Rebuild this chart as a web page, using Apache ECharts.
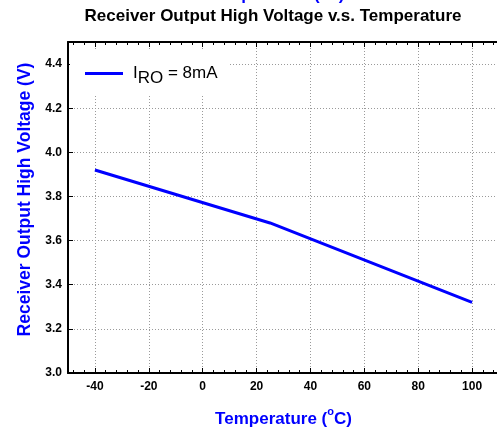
<!DOCTYPE html>
<html>
<head>
<meta charset="utf-8">
<script src="https://cdn.jsdelivr.net/npm/echarts@6/dist/echarts.min.js"></script>
<style>
html,body{margin:0;padding:0;background:#fff;}
#chart{width:497px;height:432px;}
</style>
</head>
<body>
<div id="chart"></div>
<script>
// ---- data ----
const temps = [-40, 25, 100];
const voh = [3.92, 3.68, 3.32];
const xMajor = [-40, -20, 0, 20, 40, 60, 80, 100];
const xMinor = [-48, -44, -36, -32, -28, -24, -16, -12, -8, -4, 4, 8, 12, 16, 24, 28, 32, 36, 44, 48, 52, 56, 64, 68, 72, 76, 84, 88, 92, 96, 104, 108];
const yTicks = [3.0, 3.2, 3.4, 3.6, 3.8, 4.0, 4.2, 4.4];
const seriesName = 'IRO = 8mA';
const titleText = 'Receiver Output High Voltage v.s. Temperature';

const FONT = 'Liberation Sans, Arial, Helvetica, sans-serif';
const BLUE = '#0000ff';
const grid = {left: 68, top: 42, right: -2, bottom: 59, outerBoundsMode: 'none', containLabel: false};
const dotted = {color: '#9a9a9a', width: 1, type: [1, 2]};

function xAx(extra) {
  return Object.assign({
    type: 'value', min: -50, max: 110, gridIndex: 0,
    axisLine: {show: false, onZero: false},
    axisTick: {show: false},
    axisLabel: {show: false},
    splitLine: {show: false}
  }, extra);
}

const chart = echarts.init(document.getElementById('chart'), null, {renderer: 'canvas'});
chart.setOption({
  animation: false,
  backgroundColor: '#fff',
  title: {
    text: titleText, left: 273, top: 8, padding: 0, textAlign: 'center',
    textStyle: {fontFamily: FONT, fontSize: 17, fontWeight: 'bold', color: '#000'}
  },
  graphic: [{
    type: 'text', x: 0, y: 0,
    style: {text: 'Temperature (°C)', x: 276, y: 4, textAlign: 'center', textVerticalAlign: 'bottom',
      fill: BLUE, font: 'bold 17px ' + FONT}
  }],
  legend: {
    left: 70, top: 49, padding: [11, 12, 9, 15], backgroundColor: '#fff',
    itemWidth: 38, itemHeight: 3, selectedMode: false,
    data: [{name: seriesName, icon: 'rect'}],
    formatter: function () { return '{i|I}{r|RO}{a| = 8mA}'; },
    textStyle: {
      fontFamily: FONT, fontSize: 17, color: '#000',
      rich: {
        i: {fontFamily: FONT, fontSize: 17, color: '#000', padding: [0, 0, 0, 5], lineHeight: 18},
        r: {fontFamily: FONT, fontSize: 17, color: '#000', padding: [10, 0, 0, 0], lineHeight: 18},
        a: {fontFamily: FONT, fontSize: 17, color: '#000', lineHeight: 18}
      }
    }
  },
  grid: grid,
  xAxis: [
    xAx({
      position: 'bottom',
      axisLine: {show: true, onZero: false, lineStyle: {color: '#000', width: 2}},
      axisTick: {show: true, inside: true, length: 5, customValues: xMajor, lineStyle: {color: '#000', width: 1}},
      axisLabel: {show: true, customValues: xMajor, margin: 8, color: '#000', fontFamily: FONT, fontSize: 12, fontWeight: 'bold'},
      splitLine: {show: true, lineStyle: dotted},
      name: 'Temperature ({s|o}C)', nameLocation: 'middle', nameGap: 33,
      nameTextStyle: {
        color: BLUE, fontFamily: FONT, fontSize: 17, fontWeight: 'bold', lineHeight: 26, verticalAlign: 'top',
        rich: {s: {color: BLUE, fontFamily: FONT, fontSize: 11, fontWeight: 'bold', lineHeight: 11, verticalAlign: 'top'}}
      }
    }),
    xAx({
      position: 'bottom',
      axisTick: {show: true, inside: true, length: 3, customValues: xMinor, lineStyle: {color: '#000', width: 1}}
    }),
    xAx({
      position: 'top',
      axisLine: {show: true, onZero: false, lineStyle: {color: '#000', width: 2}},
      axisTick: {show: true, inside: true, length: 5, customValues: xMajor, lineStyle: {color: '#000', width: 1}}
    }),
    xAx({
      position: 'top',
      axisTick: {show: true, inside: true, length: 3, customValues: xMinor, lineStyle: {color: '#000', width: 1}}
    })
  ],
  yAxis: {
    type: 'value', min: 3.0, max: 4.5, interval: 0.2, position: 'left',
    axisLine: {show: true, onZero: false, lineStyle: {color: '#000', width: 2}},
    axisTick: {show: true, inside: true, length: 5, customValues: yTicks, lineStyle: {color: '#000', width: 1}},
    axisLabel: {show: true, customValues: yTicks, margin: 6, color: '#000', fontFamily: FONT, fontSize: 12, fontWeight: 'bold',
      formatter: function (v) { return Number(v).toFixed(1); }},
    splitLine: {show: true, lineStyle: dotted},
    name: 'Receiver Output High Voltage (V)', nameLocation: 'middle', nameGap: 33,
    nameTextStyle: {color: BLUE, fontFamily: FONT, fontSize: 17.5, fontWeight: 'bold', padding: [0, 0, 0, 16]}
  },
  series: [{
    name: seriesName, type: 'line', xAxisIndex: 0, yAxisIndex: 0,
    data: temps.map(function (t, i) { return [t, voh[i]]; }),
    symbol: 'none', lineStyle: {color: BLUE, width: 3}, itemStyle: {color: BLUE},
    clip: false, z: 5
  }]
});
</script>
</body>
</html>
